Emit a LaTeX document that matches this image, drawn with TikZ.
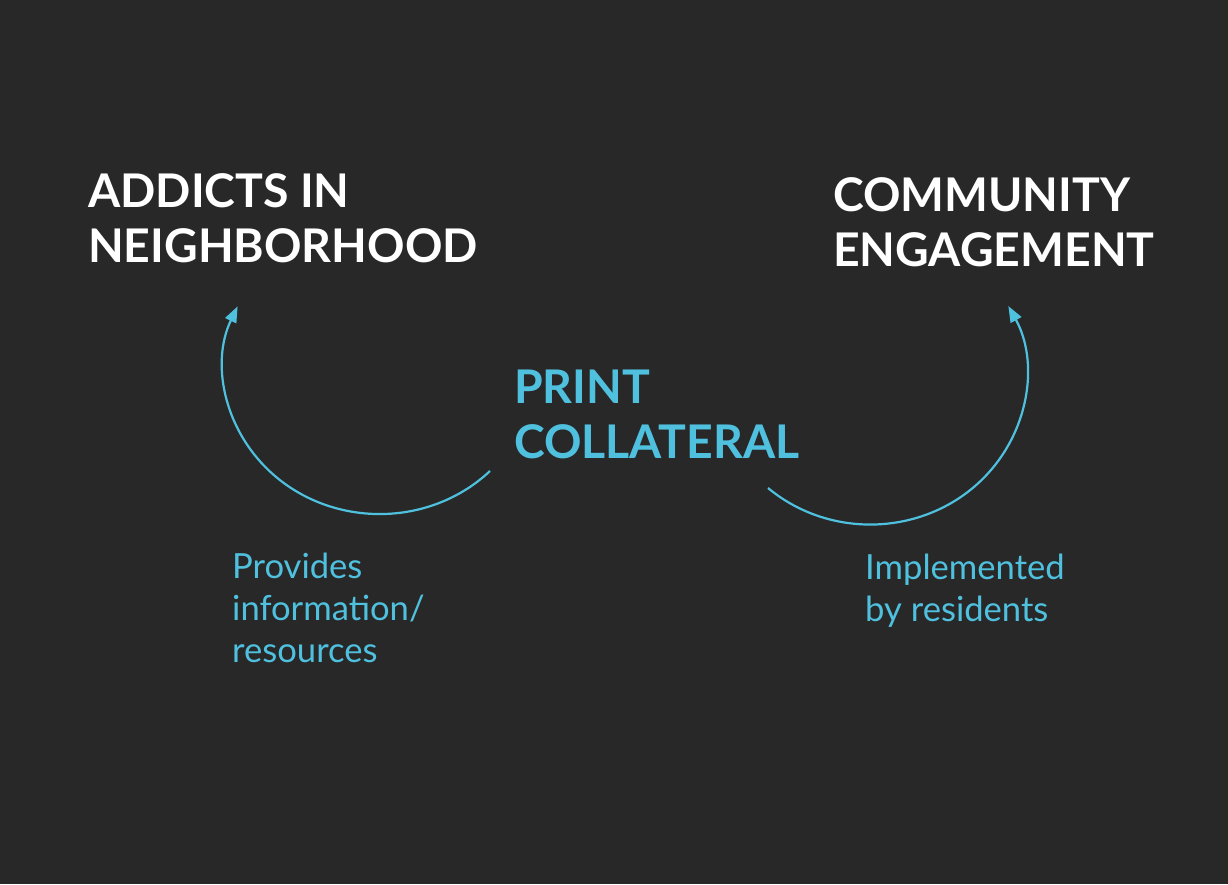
\documentclass[tikz,border=0pt]{standalone}
\usepackage{fontspec}
\setmainfont{Lato}
\newfontfamily\latobold{Lato Bold}
\usetikzlibrary{arrows.meta}
\definecolor{bgcol}{HTML}{282828}
\definecolor{cyancol}{HTML}{4FC1DF}
\tikzset{
  heading/.style={anchor=base west, inner sep=0pt, align=left, text=white,
    font=\latobold\fontsize{46.4}{55}\selectfont},
  cheading/.style={heading, text=cyancol},
  label/.style={anchor=base west, inner sep=0pt, align=left, text=cyancol,
    font=\fontsize{34.6}{42}\selectfont},
  arcline/.style={draw=cyancol, line width=2.2pt, -{Triangle[length=16pt,width=12pt]}}
}
\begin{document}
\begin{tikzpicture}[x=1pt,y=1pt]
\fill[bgcol] (0,0) rectangle (1228,884);
\useasboundingbox (0,0) rectangle (1228,884);
% base anchor = baseline of the last line
\node[heading] (addicts) at (88,621) {ADDICTS IN\\NEIGHBORHOOD};
\node[heading] (community) at (833,617) {COMMUNITY\\ENGAGEMENT};
\node[cheading] (print) at (514,425) {PRINT\\COLLATERAL};
\node[label] (provides) at (232,222) {Provides\\information/\\resources};
\node[label] (implemented) at (865,263) {Implemented\\by residents};
\coordinate (ls) at (490,413);
\coordinate (rs) at (768,396);
\draw[arcline] (ls) arc[start angle=-45, end angle=-204.4, x radius=156pt, y radius=147pt];
\draw[arcline] (rs) arc[start angle=-131, end angle=27.8, x radius=156pt, y radius=149pt];
\end{tikzpicture}
\end{document}
